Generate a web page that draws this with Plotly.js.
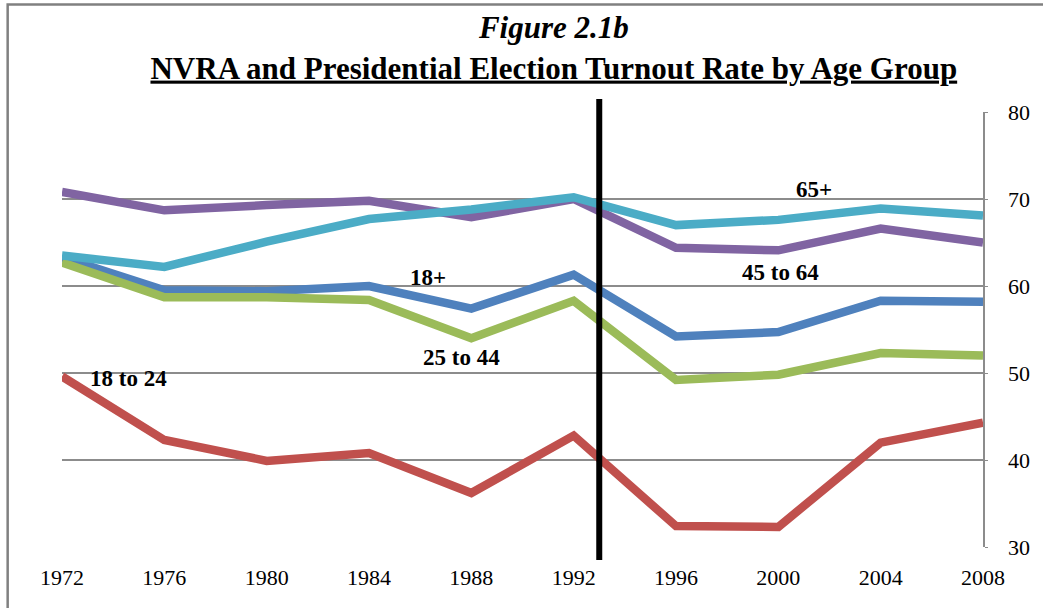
<!DOCTYPE html>
<html>
<head>
<meta charset="utf-8">
<script src="https://cdn.plot.ly/plotly-3.0.1.min.js"></script>
<style>
  html, body { margin: 0; padding: 0; background: #ffffff; }
  #chart { width: 1043px; height: 608px; }
</style>
</head>
<body>
<div id="chart"></div>
<script>
// Presidential election years
const years = [1972, 1976, 1980, 1984, 1988, 1992, 1996, 2000, 2004, 2008];

// Turnout rate (%) by age group
const turnoutAll   = [63.3, 59.5, 59.4, 60.0, 57.4, 61.3, 54.2, 54.7, 58.3, 58.2]; // 18+
const turnout18_24 = [49.6, 42.3, 39.9, 40.8, 36.2, 42.8, 32.4, 32.3, 42.0, 44.3];
const turnout25_44 = [62.7, 58.7, 58.7, 58.4, 54.0, 58.3, 49.2, 49.8, 52.3, 52.0];
const turnout45_64 = [70.8, 68.7, 69.3, 69.8, 67.9, 70.0, 64.4, 64.1, 66.6, 65.0];
const turnout65up  = [63.5, 62.2, 65.1, 67.7, 68.8, 70.2, 67.0, 67.6, 68.9, 68.1];

// Series names and label positions
const seriesNames = ['18+', '18 to 24', '25 to 44', '45 to 64', '65+'];
const labelX = [1986.3, 1974.6, 1987.6, 2000.1, 2001.4];
const labelY = [61.0, 49.4, 51.8, 61.5, 71.1];

// NVRA enactment marker
const nvraYear = 1993;

const yTicks = [30, 40, 50, 60, 70, 80];

const colors = ['#4F81BD', '#C0504D', '#9BBB59', '#8064A2', '#4BACC6'];
const seriesValues = [turnoutAll, turnout18_24, turnout25_44, turnout45_64, turnout65up];

const serif = 'Liberation Serif, Times New Roman, serif';

const traces = seriesValues.map((vals, i) => ({
  type: 'scatter',
  mode: 'lines',
  name: seriesNames[i],
  x: years,
  y: vals,
  line: { color: colors[i], width: 8.5 },
  hoverinfo: 'x+y+name'
}));

const annotations = seriesNames.map((name, i) => ({
  x: labelX[i],
  y: labelY[i],
  xref: 'x',
  yref: 'y',
  text: '<b>' + name + '</b>',
  showarrow: false,
  font: { family: serif, size: 23, color: '#000000' },
  xanchor: 'center',
  yanchor: 'middle'
}));

const layout = {
  width: 1043,
  height: 608,
  margin: { l: 62, r: 60, t: 112, b: 61 },
  paper_bgcolor: '#ffffff',
  plot_bgcolor: '#ffffff',
  showlegend: false,
  title: {
    text: '<b><i>Figure 2.1b</i></b><br><b><u>NVRA and Presidential Election Turnout Rate by Age Group</u></b>',
    font: { family: serif, size: 31, color: '#000000' },
    x: 0.534,
    xanchor: 'center',
    xref: 'paper',
    y: 0.937,
    yref: 'container',
    yanchor: 'middle'
  },
  xaxis: {
    type: 'linear',
    range: [1972, 2008],
    tickvals: years,
    ticktext: years.map(String),
    showgrid: false,
    zeroline: false,
    showline: false,
    ticks: '',
    ticklabelstandoff: 15,
    tickfont: { family: serif, size: 22, color: '#000000' },
    fixedrange: true
  },
  yaxis: {
    side: 'right',
    range: [30, 80],
    tickvals: yTicks,
    showgrid: true,
    gridcolor: '#8c8c8c',
    gridwidth: 1.5,
    zeroline: false,
    showline: true,
    linecolor: '#8c8c8c',
    linewidth: 1.5,
    ticks: 'outside',
    ticklen: 3,
    tickcolor: '#8c8c8c',
    ticklabelstandoff: 16,
    tickfont: { family: serif, size: 22, color: '#000000' },
    fixedrange: true
  },
  shapes: [
    // NVRA divider
    {
      type: 'line',
      xref: 'x',
      yref: 'paper',
      x0: nvraYear, x1: nvraYear,
      y0: -0.03, y1: 1.03,
      line: { color: '#000000', width: 6 }
    },
    // chart frame
    {
      type: 'rect',
      xref: 'paper',
      yref: 'paper',
      x0: -0.059, x1: 1.12,
      y0: -0.2, y1: 1.247,
      line: { color: '#808080', width: 2.5 },
      fillcolor: 'rgba(0,0,0,0)',
      layer: 'below'
    }
  ],
  annotations: annotations
};

Plotly.newPlot('chart', traces, layout, { displayModeBar: false, staticPlot: true });
</script>
</body>
</html>
